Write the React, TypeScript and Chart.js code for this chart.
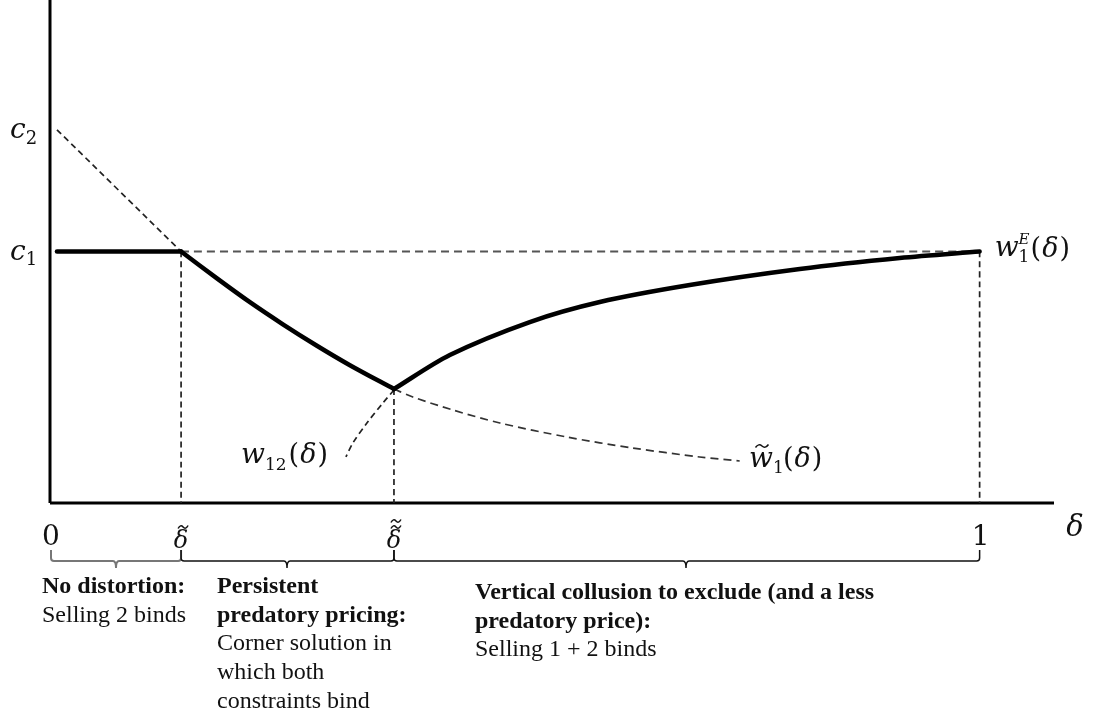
import React, { useEffect, useRef } from "react";
import { Chart, registerables } from "chart.js";
Chart.register(...registerables);

// Key levels / thresholds (chart units: x in [0, 1.08], y in [0, 1])
const C1 = 0.5;
const C2 = 0.742;
const DELTA_T = 0.141; // δ̃
const DELTA_TT = 0.37; // δ̃̃
const X_START = 0.0075;
const X_MAX = 1.08;

// Thick equilibrium price curve pieces
const flatX = [X_START, DELTA_T];
const flatY = [C1, C1];
const descX = [0.141, 0.1796, 0.215, 0.2505, 0.2871, 0.3226, 0.37];
const descY = [0.5, 0.4465, 0.3992, 0.3553, 0.3127, 0.274, 0.2266];
const ascX = [0.37, 0.4301, 0.5161, 0.5914, 0.6882, 0.8065, 0.914, 1.0];
const ascY = [0.2266, 0.2942, 0.3598, 0.3996, 0.4334, 0.4652, 0.4871, 0.5];

// Dashed curves
const c2LineX = [X_START, DELTA_T];
const c2LineY = [C2, C1];
const wTildeX = [0.37, 0.3903, 0.4333, 0.4839, 0.5559, 0.6269, 0.6989, 0.7419];
const wTildeY = [0.2266, 0.2107, 0.1849, 0.159, 0.1312, 0.1093, 0.0915, 0.0835];
const w12X = [0.37, 0.3581, 0.3409, 0.3258, 0.3183];
const w12Y = [0.2247, 0.1988, 0.159, 0.1193, 0.0915];

// Bottom annotations
const col1Lines = ["No distortion:", "Selling 2 binds"];
const col1Bold = [true, false];
const col2Lines = ["Persistent", "predatory pricing:", "Corner solution in", "which both", "constraints bind"];
const col2Bold = [true, true, false, false, false];
const col3Lines = ["Vertical collusion to exclude (and a less", "predatory price):", "Selling 1 + 2 binds"];
const col3Bold = [true, true, false];

const pts = (xs: number[], ys: number[]) => xs.map((x, i) => ({ x, y: ys[i] }));

const MATH = '"DejaVu Serif"';

function txt(ctx: CanvasRenderingContext2D, s: string, x: number, y: number, size: number, italic: boolean, align: CanvasTextAlign = "left") {
  ctx.font = `${italic ? "italic " : ""}${size}px ${MATH}`;
  ctx.textAlign = align;
  ctx.textBaseline = "alphabetic";
  ctx.fillText(s, x, y);
  return ctx.measureText(s).width;
}

// "(δ)" with italic delta
function argDelta(ctx: CanvasRenderingContext2D, x: number, y: number, size: number) {
  let w = txt(ctx, "(", x, y, size, false);
  w += txt(ctx, "δ", x + w + 1, y, size, true) + 1;
  w += txt(ctx, ")", x + w + 1, y, size, false);
  return w;
}

function tilde(ctx: CanvasRenderingContext2D, cx: number, cy: number, w: number) {
  const x0 = cx - w / 2;
  const h = 1.5;
  ctx.beginPath();
  ctx.moveTo(x0, cy + h);
  ctx.quadraticCurveTo(x0 + w / 4, cy - 2 * h, x0 + w / 2, cy);
  ctx.quadraticCurveTo(x0 + (3 * w) / 4, cy + 2 * h, x0 + w, cy - h);
  ctx.lineWidth = 1.5;
  ctx.strokeStyle = "#111";
  ctx.stroke();
}

function bracket(ctx: CanvasRenderingContext2D, a: number, b: number, m: number, y: number, color: string, lw: number) {
  const up = 11, r = 3, down = 7;
  ctx.beginPath();
  ctx.moveTo(a, y - up);
  ctx.lineTo(a, y - r);
  ctx.quadraticCurveTo(a, y, a + r, y);
  ctx.lineTo(m - r, y);
  ctx.quadraticCurveTo(m, y, m, y + down);
  ctx.quadraticCurveTo(m, y, m + r, y);
  ctx.lineTo(b - r, y);
  ctx.quadraticCurveTo(b, y, b, y - r);
  ctx.lineTo(b, y - up);
  ctx.strokeStyle = color;
  ctx.lineWidth = lw;
  ctx.stroke();
}

const annot = {
  id: "annot",
  afterDraw(chart: any) {
    const ctx: CanvasRenderingContext2D = chart.ctx;
    const xs = chart.scales.x;
    const ys = chart.scales.y;
    const px = (v: number) => xs.getPixelForValue(v);
    const py = (v: number) => ys.getPixelForValue(v);
    ctx.save();
    ctx.fillStyle = "#111";

    // y-axis labels c2, c1
    let w = txt(ctx, "c", 10, py(C2) + 8, 28, true);
    txt(ctx, "2", 10 + w, py(C2) + 14, 18, false);
    w = txt(ctx, "c", 10, py(C1) + 8, 28, true);
    txt(ctx, "1", 10 + w, py(C1) + 13, 18, false);

    // x tick labels
    const ty = py(0) + 42;
    txt(ctx, "0", px(0) + 1, ty, 28, false, "center");
    txt(ctx, "1", px(1) + 1, ty, 28, false, "center");
    txt(ctx, "δ", px(DELTA_T), ty + 3, 24, true, "center");
    tilde(ctx, px(DELTA_T) + 2, ty - 18, 10);
    txt(ctx, "δ", px(DELTA_TT), ty + 3, 24, true, "center");
    tilde(ctx, px(DELTA_TT) + 2, ty - 18, 10);
    tilde(ctx, px(DELTA_TT) + 2, ty - 24, 10);
    txt(ctx, "δ", px(X_MAX) + 21, py(0) + 33, 29, true, "center");

    // w1^E(δ)
    let x = px(1) + 15;
    let by = py(C1) + 4;
    w = txt(ctx, "w", x, by, 28, true);
    txt(ctx, "1", x + w, by + 6, 17, false);
    txt(ctx, "E", x + w, by - 12, 15, true);
    argDelta(ctx, x + w + 12, by + 1, 27);

    // w12(δ)
    x = 241; by = 463;
    w = txt(ctx, "w", x, by, 28, true);
    const w2 = txt(ctx, "12", x + w, by + 7, 17, false);
    argDelta(ctx, x + w + w2 + 2, by, 27);

    // w̃1(δ)
    x = 749; by = 467;
    w = txt(ctx, "w", x, by, 28, true);
    tilde(ctx, x + w / 2 + 1, by - 21, 13);
    txt(ctx, "1", x + w, by + 6, 17, false);
    argDelta(ctx, x + w + 10, by, 27);

    // brackets
    const yb = py(0) + 58;
    bracket(ctx, px(0) + 1, px(DELTA_T), 116, yb, "#777", 2);
    bracket(ctx, px(DELTA_T), px(DELTA_TT), 287, yb, "#111", 1.5);
    bracket(ctx, px(DELTA_TT), px(1), 686, yb, "#111", 1.5);

    // text blocks
    ctx.fillStyle = "#111";
    ctx.textAlign = "left";
    ctx.textBaseline = "alphabetic";
    const drawCol = (lines: string[], bold: boolean[], x0: number, y0: number) => {
      lines.forEach((s, i) => {
        ctx.font = `${bold[i] ? "bold " : ""}24px "Liberation Serif"`;
        ctx.fillText(s, x0, y0 + i * 28.7);
      });
    };
    drawCol(col1Lines, col1Bold, 42, 593);
    drawCol(col2Lines, col2Bold, 217, 593);
    drawCol(col3Lines, col3Bold, 475, 599);
    ctx.restore();
  },
};

export default function App() {
  const ref = useRef<HTMLCanvasElement | null>(null);
  useEffect(() => {
    if (!ref.current) return;
    const thick = { borderColor: "#000", borderWidth: 4.5, pointRadius: 0, showLine: true, clip: false as any, tension: 0.3, borderCapStyle: "round" as const };
    const dash = { borderColor: "#222", borderWidth: 1.7, pointRadius: 0, showLine: true, clip: false as any, borderDash: [6, 4], tension: 0.3 };
    const chart = new Chart(ref.current, {
      type: "scatter",
      data: {
        datasets: [
          { ...thick, label: "flat", data: pts(flatX, flatY) },
          { ...thick, label: "desc", data: pts(descX, descY) },
          { ...thick, label: "asc", data: pts(ascX, ascY) },
          { ...dash, label: "c2", data: pts(c2LineX, c2LineY) },
          { ...dash, label: "c1", borderColor: "#555", borderWidth: 2, borderDash: [8, 5], data: pts([DELTA_T, 1], [C1, C1]) },
          { ...dash, label: "v1", data: pts([DELTA_T, DELTA_T], [C1, 0]) },
          { ...dash, label: "v2", data: pts([DELTA_TT, DELTA_TT], [0.2266, 0]) },
          { ...dash, label: "v3", data: pts([1, 1], [C1, 0]) },
          { ...dash, label: "wt", borderColor: "#333", borderDash: [8, 5], data: pts(wTildeX, wTildeY) },
          { ...dash, label: "w12", data: pts(w12X, w12Y) },
          { label: "yaxis", borderColor: "#000", borderWidth: 3, pointRadius: 0, showLine: true, clip: false as any, data: pts([0, 0], [0, 1]) },
          { label: "xaxis", borderColor: "#000", borderWidth: 3, pointRadius: 0, showLine: true, clip: false as any, data: pts([0, X_MAX], [0, 0]) },
        ],
      },
      options: {
        animation: false,
        responsive: false,
        layout: { padding: { left: 50, right: 39, top: 0, bottom: 216 } },
        plugins: { legend: { display: false }, tooltip: { enabled: false } },
        scales: {
          x: { type: "linear", min: 0, max: X_MAX, display: false },
          y: { type: "linear", min: 0, max: 1, display: false },
        },
      },
      plugins: [annot],
    });
    return () => chart.destroy();
  }, []);
  return (
    <div style={{ position: "absolute", left: 0, top: 0, width: 1093, height: 719, background: "#fff" }}>
      <canvas ref={ref} width={1093} height={719} style={{ width: 1093, height: 719, display: "block" }} />
    </div>
  );
}
